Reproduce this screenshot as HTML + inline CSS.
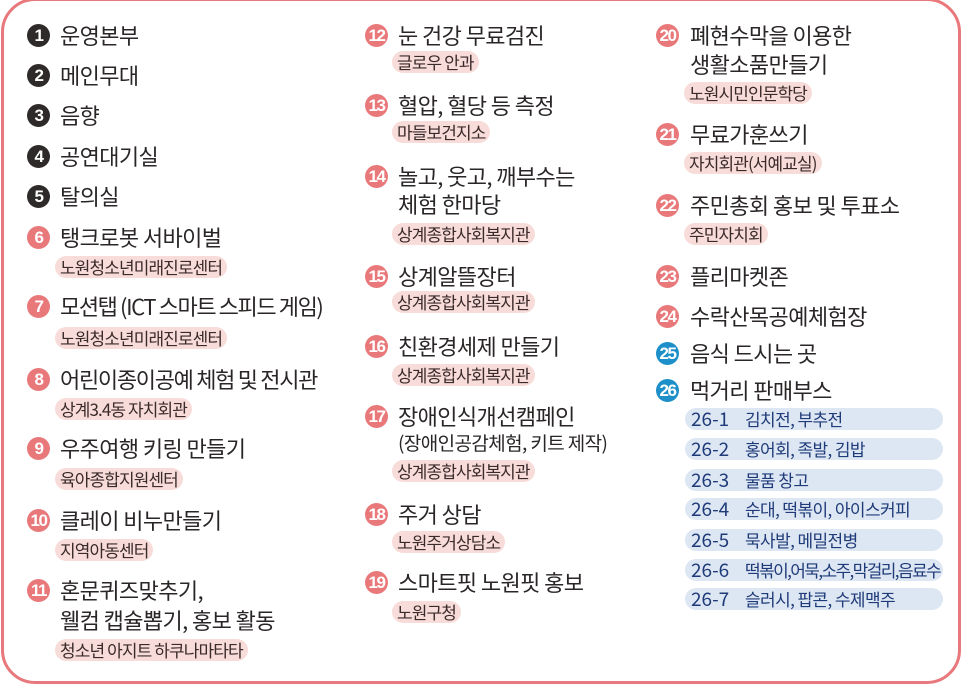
<!DOCTYPE html>
<html><head><meta charset="utf-8"><style>
body{margin:0;width:966px;height:689px;background:#fff;position:relative;overflow:hidden;font-family:"Liberation Sans","Noto Sans CJK KR",sans-serif;}
.frame{position:absolute;left:1px;top:-2px;width:960px;height:686px;border:3px solid #e8787c;border-radius:34px;box-sizing:border-box;}
.n{position:absolute;width:23px;height:23px;border-radius:50%;color:#fff;font-size:17px;font-weight:bold;text-align:center;line-height:23px;letter-spacing:-1.5px;}
.d{background:#2e2a2a}.p{background:#e9787a}.b{background:#1d8fc9}
.t{position:absolute;font-family:"Noto Sans CJK KR",sans-serif;font-size:22px;line-height:26px;color:#2a2626;letter-spacing:-0.6px;white-space:nowrap;}
.s{position:absolute;font-family:"Noto Sans CJK KR",sans-serif;font-size:17px;line-height:22px;height:22px;color:#3a2a2a;background:#f8dcd9;border-radius:11px;padding:0 5px;letter-spacing:-0.9px;white-space:nowrap;}
.bl{position:absolute;left:685px;width:258px;height:22px;border-radius:11px;background:#dde6f3;font-family:"Noto Sans CJK KR",sans-serif;font-size:17px;line-height:22px;color:#1e3a78;padding-left:6px;box-sizing:border-box;letter-spacing:-0.6px;white-space:nowrap;}
.bl b{font-weight:normal;display:inline-block;width:54px;font-size:19px;letter-spacing:0;}
</style></head><body>
<div class="frame"></div>

<div class="n d" style="left:27px;top:24px">1</div><div class="t" style="left:60px;top:22px">운영본부</div>
<div class="n d" style="left:27px;top:64px">2</div><div class="t" style="left:60px;top:62px">메인무대</div>
<div class="n d" style="left:27px;top:104px">3</div><div class="t" style="left:60px;top:102px">음향</div>
<div class="n d" style="left:27px;top:145px">4</div><div class="t" style="left:60px;top:143px">공연대기실</div>
<div class="n d" style="left:27px;top:185px">5</div><div class="t" style="left:60px;top:183px">탈의실</div>
<div class="n p" style="left:27px;top:226px">6</div><div class="t" style="left:60px;top:224px">탱크로봇 서바이벌</div>
<div class="s" style="left:55px;top:256px">노원청소년미래진로센터</div>
<div class="n p" style="left:27px;top:295px">7</div><div class="t" style="left:60px;top:293px;letter-spacing:-1.4px">모션탭 (ICT 스마트 스피드 게임)</div>
<div class="s" style="left:55px;top:327px">노원청소년미래진로센터</div>
<div class="n p" style="left:27px;top:368px">8</div><div class="t" style="left:60px;top:366px;letter-spacing:-1.3px">어린이종이공예 체험 및 전시관</div>
<div class="s" style="left:55px;top:398px">상계3.4동 자치회관</div>
<div class="n p" style="left:27px;top:437px">9</div><div class="t" style="left:60px;top:435px">우주여행 키링 만들기</div>
<div class="s" style="left:55px;top:468px">육아종합지원센터</div>
<div class="n p" style="left:27px;top:509px">10</div><div class="t" style="left:60px;top:507px">클레이 비누만들기</div>
<div class="s" style="left:55px;top:539px">지역아동센터</div>
<div class="n p" style="left:27px;top:579px">11</div><div class="t" style="left:60px;top:577px">혼문퀴즈맞추기,</div>
<div class="t" style="left:60px;top:607px">웰컴 캡슐뽑기, 홍보 활동</div>
<div class="s" style="left:55px;top:639px">청소년 아지트 하쿠나마타타</div>

<div class="n p" style="left:365px;top:24px">12</div><div class="t" style="left:398px;top:22px">눈 건강 무료검진</div>
<div class="s" style="left:392px;top:51px">글로우 안과</div>
<div class="n p" style="left:365px;top:94px">13</div><div class="t" style="left:398px;top:92px">혈압, 혈당 등 측정</div>
<div class="s" style="left:392px;top:121px">마들보건지소</div>
<div class="n p" style="left:365px;top:165px">14</div><div class="t" style="left:398px;top:163px">놀고, 웃고, 깨부수는</div>
<div class="t" style="left:398px;top:191px">체험 한마당</div>
<div class="s" style="left:392px;top:223px">상계종합사회복지관</div>
<div class="n p" style="left:365px;top:265px">15</div><div class="t" style="left:398px;top:263px">상계알뜰장터</div>
<div class="s" style="left:392px;top:291px">상계종합사회복지관</div>
<div class="n p" style="left:365px;top:335px">16</div><div class="t" style="left:398px;top:333px">친환경세제 만들기</div>
<div class="s" style="left:392px;top:364px">상계종합사회복지관</div>
<div class="n p" style="left:365px;top:405px">17</div><div class="t" style="left:398px;top:403px">장애인식개선캠페인</div>
<div class="t" style="left:398px;top:430px;font-size:19px">(장애인공감체험, 키트 제작)</div>
<div class="s" style="left:392px;top:460px">상계종합사회복지관</div>
<div class="n p" style="left:365px;top:503px">18</div><div class="t" style="left:398px;top:501px">주거 상담</div>
<div class="s" style="left:392px;top:531px">노원주거상담소</div>
<div class="n p" style="left:365px;top:571px">19</div><div class="t" style="left:398px;top:569px">스마트핏 노원핏 홍보</div>
<div class="s" style="left:392px;top:601px">노원구청</div>

<div class="n p" style="left:656px;top:24px">20</div><div class="t" style="left:690px;top:22px">폐현수막을 이용한</div>
<div class="t" style="left:690px;top:51px">생활소품만들기</div>
<div class="s" style="left:684px;top:82px">노원시민인문학당</div>
<div class="n p" style="left:656px;top:123px">21</div><div class="t" style="left:690px;top:121px">무료가훈쓰기</div>
<div class="s" style="left:684px;top:152px">자치회관(서예교실)</div>
<div class="n p" style="left:656px;top:194px">22</div><div class="t" style="left:690px;top:192px">주민총회 홍보 및 투표소</div>
<div class="s" style="left:684px;top:223px">주민자치회</div>
<div class="n p" style="left:656px;top:265px">23</div><div class="t" style="left:690px;top:263px">플리마켓존</div>
<div class="n p" style="left:656px;top:305px">24</div><div class="t" style="left:690px;top:303px">수락산목공예체험장</div>
<div class="n b" style="left:656px;top:342px">25</div><div class="t" style="left:690px;top:340px">음식 드시는 곳</div>
<div class="n b" style="left:656px;top:379px">26</div><div class="t" style="left:690px;top:377px">먹거리 판매부스</div>
<div class="bl" style="top:408px"><b>26-1</b>김치전, 부추전</div>
<div class="bl" style="top:438px"><b>26-2</b>홍어회, 족발, 김밥</div>
<div class="bl" style="top:469px"><b>26-3</b>물품 창고</div>
<div class="bl" style="top:498px"><b>26-4</b>순대, 떡볶이, 아이스커피</div>
<div class="bl" style="top:529px"><b>26-5</b>묵사발, 메밀전병</div>
<div class="bl" style="top:559px;letter-spacing:-1.6px"><b>26-6</b>떡볶이,어묵,소주,막걸리,음료수</div>
<div class="bl" style="top:588px"><b>26-7</b>슬러시, 팝콘, 수제맥주</div>
</body></html>
